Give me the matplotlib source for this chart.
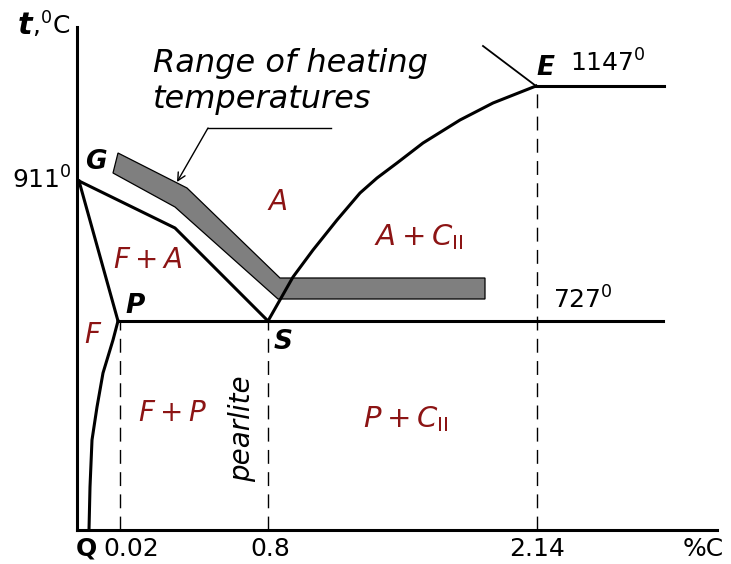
import numpy as np
import matplotlib.pyplot as plt

plt.rcParams.update({'font.family': 'DejaVu Sans', 'mathtext.fontset': 'dejavusans'})

# schematic coordinates of the diagram (x: carbon axis, y: temperature axis)
G = (2, 349)
P = (41, 209)
S = (191, 209)
E = (459, 444)

gs_x = [G[0], 98, S[0]]
gs_y = [G[1], 302, S[1]]
gp_x = [G[0], P[0]]
gp_y = [G[1], P[1]]
pq_x = [P[0], 36, 26, 20, 15, 13, 12]
pq_y = [P[1], 190, 157, 123, 90, 43, 0]
se_x = [S[0], 216, 236, 260, 283, 300, 320, 346, 383, 416, E[0]]
se_y = [S[1], 253, 280, 310, 337, 352, 367, 387, 410, 427, E[1]]
psk_x = [P[0], 586]
ecf_x = [E[0], 587]
liq_x = [E[0], 406]
liq_y = [E[1], 484]

# heating range band
band_x = [41, 110, 203, 408, 408, 201, 98, 36]
band_y = [377, 342, 252, 252, 231, 231, 323, 357]

# composition guides
guide_x = [43, 191, 460]
guide_top = [P[1], S[1], E[1]]

xtick_pos = [9, 54, 193, 460, 626]
xtick_lab = ['Q', '0.02', '0.8', '2.14', '%C']
ytick_pos = [353]
ytick_lab = [r'911$^{0}$']

phase_lab = [r'$A$', r'$F+A$', r'$F$', r'$F+P$']
phase_xy = [(200, 328), (71, 270), (16, 195), (95, 117)]
phase_lab2 = [r'$A+C_{\mathrm{II}}$', r'$P+C_{\mathrm{II}}$']
phase_xy2 = [(297, 285), (286, 103)]

point_lab = ['G', 'P', 'S', 'E']
point_xy = [(19, 368), (58, 224), (206, 188), (468, 462)]

red = '#8c1414'

fig = plt.figure(figsize=(7.31, 5.64), dpi=100)
ax = fig.add_axes([77/731, 34/564, 640/731, 503/564])
ax.set_xlim(0, 640)
ax.set_ylim(0, 503)
for s in ['top', 'right']:
    ax.spines[s].set_visible(False)
for s in ['left', 'bottom']:
    ax.spines[s].set_linewidth(2.2)

ax.set_xticks(xtick_pos, xtick_lab, fontsize=18)
ax.set_yticks(ytick_pos, ytick_lab, fontsize=18)
ax.tick_params(length=0)
ax.tick_params(axis='x', pad=5)
ax.tick_params(axis='y', pad=4)
ax.get_xticklabels()[0].set_fontweight('bold')

ax.fill(band_x, band_y, facecolor='#7f7f7f', edgecolor='k', lw=0.9, zorder=1)

lw = 2.2
ax.plot(gs_x, gs_y, 'k', lw=lw, solid_joinstyle='round')
ax.plot(gp_x, gp_y, 'k', lw=lw)
ax.plot(pq_x, pq_y, 'k', lw=lw, solid_joinstyle='round')
ax.plot(se_x, se_y, 'k', lw=lw, solid_joinstyle='round')
ax.plot(psk_x, [P[1], P[1]], 'k', lw=lw)
ax.plot(ecf_x, [E[1], E[1]], 'k', lw=lw)
ax.plot(liq_x, liq_y, 'k', lw=1.3)

for x, top in zip(guide_x, guide_top):
    ax.plot([x, x], [0, top], 'k', lw=1.0, dashes=(10, 6))

# labels
ax.text(76, 458, 'Range of heating', fontsize=23, style='italic')
ax.text(76, 422, 'temperatures', fontsize=23, style='italic')
ax.plot([131, 254], [402, 402], 'k', lw=1.0)
ax.annotate('', xy=(100, 348), xytext=(131, 402),
            arrowprops=dict(arrowstyle='->', lw=1.0, color='k', shrinkA=0, shrinkB=0,
                            mutation_scale=14))

for lab, (x, y) in zip(phase_lab, phase_xy):
    ax.text(x, y, lab, color=red, fontsize=20, ha='center', va='center')
for lab, (x, y) in zip(phase_lab2, phase_xy2):
    ax.text(x, y, lab, color=red, fontsize=21, ha='left', va='baseline')

for lab, (x, y) in zip(point_lab, point_xy):
    ax.text(x, y, lab, fontsize=19, fontweight='bold', style='italic', ha='center', va='center')

ax.text(165, 101, 'pearlite', fontsize=20, style='italic', rotation=90, ha='center', va='center')
ax.text(493, 458, r'1147$^{0}$', fontsize=18, ha='left', va='baseline')
ax.text(476, 221, r'727$^{0}$', fontsize=18, ha='left', va='baseline')

# axis title
ax.text(-59, 496, 't', fontsize=22, fontweight='bold', style='italic', ha='left', va='baseline', clip_on=False)
ax.text(-45, 495, r',$^{0}$C', fontsize=18, ha='left', va='baseline', clip_on=False)

fig.savefig('out.png', dpi=100, facecolor='white')
